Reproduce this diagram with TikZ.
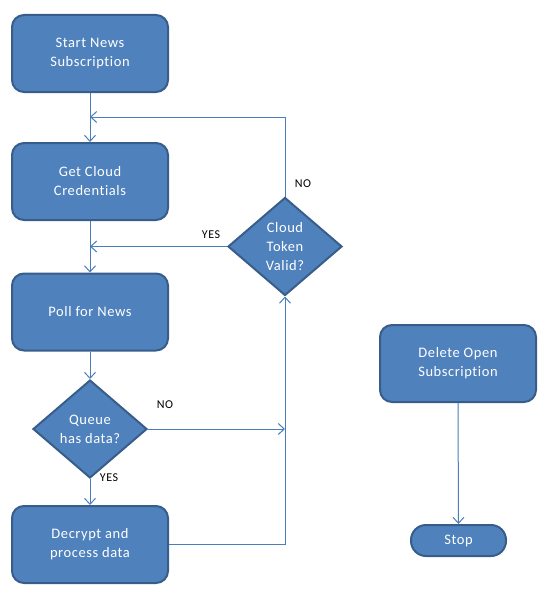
\documentclass[tikz,border=0pt]{standalone}
\usepackage{fontspec}
\setmainfont{Carlito}[Ligatures=NoCommon, LetterSpace=4]
\usetikzlibrary{shapes.geometric,arrows.meta}
\definecolor{fillblue}{HTML}{4F81BD}
\definecolor{edgeblue}{HTML}{385D8A}
\definecolor{lineblue}{HTML}{4A7EBB}
\begin{document}
\begin{tikzpicture}[x=1pt,y=-1pt,
  box/.style={draw=edgeblue, fill=fillblue, line width=2pt, rounded corners=12pt,
    minimum width=156pt, minimum height=77pt, inner sep=0pt, text=white, align=center,
    font=\fontsize{14.5}{19}\selectfont},
  decision/.style={diamond, draw=edgeblue, fill=fillblue, line width=2pt,
    minimum width=114pt, minimum height=98pt, inner sep=0pt, text=white, align=center,
    font=\fontsize{14.5}{19}\selectfont},
  terminal/.style={draw=edgeblue, fill=fillblue, line width=2pt, rounded corners=15pt,
    minimum width=95pt, minimum height=31pt, inner sep=0pt, text=white, align=center,
    font=\fontsize{14.5}{19}\selectfont},
  arr/.style={draw=lineblue, line width=1pt, -{Straight Barb[length=6pt,width=11pt,line width=1pt]}},
  lbl/.style={font=\fontsize{12}{14}\selectfont, text=black, inner sep=0pt}
]
\useasboundingbox (0,0) rectangle (552,594);
\node[box] (start) at (90,53.5) {Start News\\Subscription};
\node[box] (creds) at (90,181.5) {Get Cloud\\Credentials};
\node[box] (poll) at (90,312) {Poll for News};
\node[decision] (queue) at (90,429) {Queue\\has data?};
\node[box] (decrypt) at (90,544.5) {Decrypt and\\process data};
\node[decision] (cloud) at (285,246.5) {Cloud\\Token\\Valid?};
\node[box] (delete) at (458,363.5) {Delete Open\\Subscription};
\node[terminal] (stop) at (458.5,540.5) {Stop};

\coordinate (j1) at (90,117);
\coordinate (j2) at (90,246.5);
\coordinate (j3) at (285,429);

\draw[arr] (start.south) -- (creds.north);
\draw[arr] (cloud.north) |- (j1);
\draw[arr] (creds.south) -- (poll.north);
\draw[arr] (cloud.west) -- (j2);
\draw[arr] (poll.south) -- (queue.north);
\draw[arr] (queue.east) -- (j3);
\draw[arr] (queue.south) -- (decrypt.north);
\draw[arr] (decrypt.east) -| (cloud.south);
\draw[arr] (delete.south) -- (stop.north);

\node[lbl] (no1) at (303,184) {NO};
\node[lbl] (yes1) at (211,235) {YES};
\node[lbl] (no2) at (165,405) {NO};
\node[lbl] (yes2) at (109,478) {YES};
\end{tikzpicture}
\end{document}
